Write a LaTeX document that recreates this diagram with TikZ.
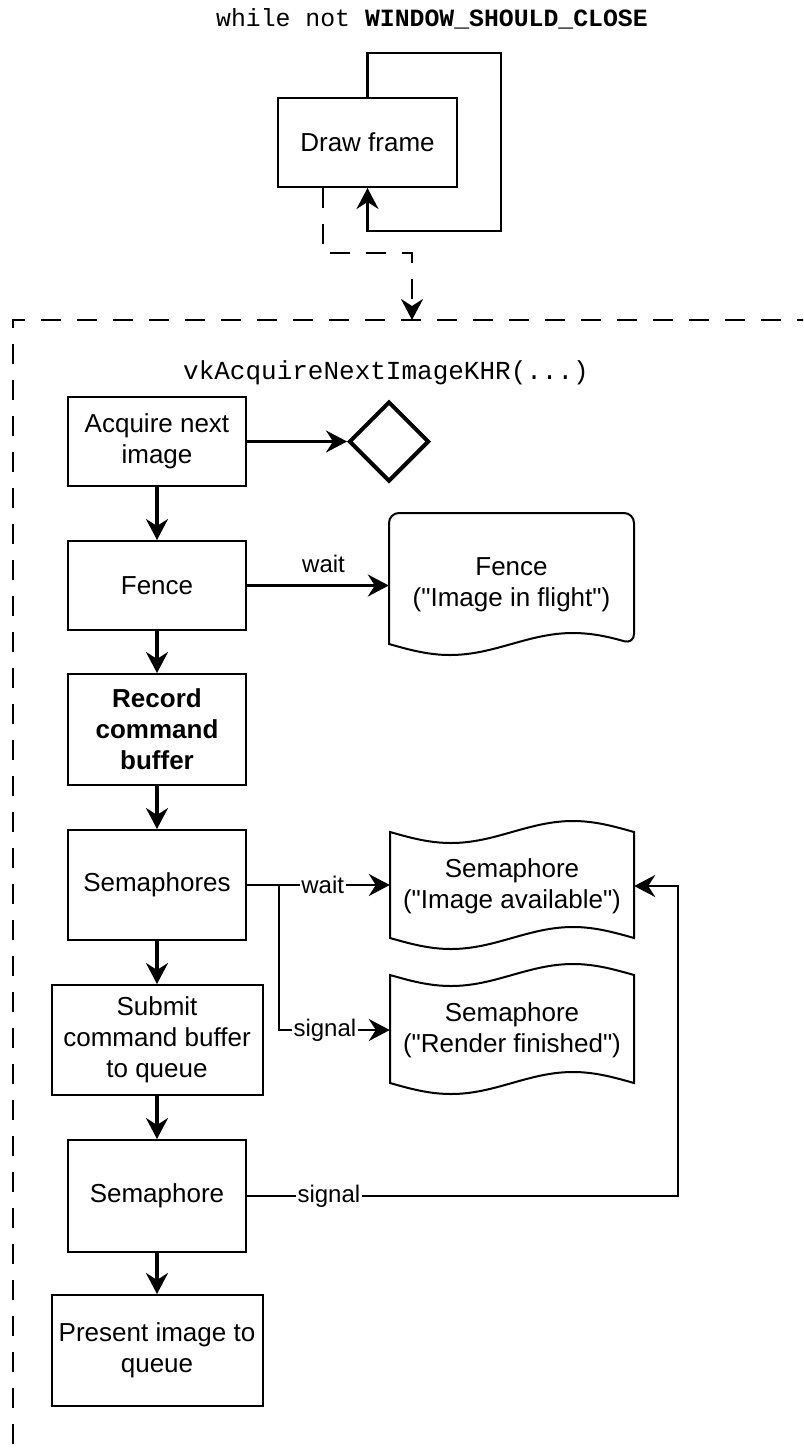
\documentclass[tikz,border=0pt]{standalone}
\usepackage{fontspec}
\setmainfont{Liberation Sans}[Ligatures=TeXOff]
\newfontfamily\monofont{Liberation Mono}
\usetikzlibrary{arrows.meta,shapes.geometric}
\tikzset{
  box/.style={draw, line width=2pt, align=center, inner sep=0pt,
    font=\fontsize{26}{31}\selectfont},
  txt/.style={align=center, inner sep=0pt, font=\fontsize{26}{31}\selectfont},
  shapeline/.style={line width=2pt, line join=miter},
  lbl/.style={fill=white, inner sep=1.5pt, font=\fontsize{24}{28}\selectfont},
  arr/.style={-{Stealth[length=21pt 0 0,width=22pt 0,inset=7pt 0]}},
  vconn/.style={arr, line width=3.2pt},
  hconn/.style={arr, line width=2.2pt},
  loopline/.style={arr, line width=2.4pt},
  dashline/.style={line width=2.4pt, dash pattern=on 20pt off 16pt},
}
\begin{document}
\begin{tikzpicture}[x=1pt,y=-1pt]
\useasboundingbox (0,0) rectangle (803,1448);
\clip (0,0) rectangle (803,1448);

% titles
\node[inner sep=0pt, font=\monofont\fontsize{24.8}{30}\selectfont] (title) at (432,19)
  {while not \textbf{WINDOW\_SHOULD\_CLOSE}};
\node[inner sep=0pt, font=\monofont\fontsize{26}{30}\selectfont] (vk) at (386,373)
  {vkAcquireNextImageKHR(...)};

% top loop
\node[box, minimum width=179pt, minimum height=89pt] (drawf) at (367.5,142.5) {Draw frame};
\coordinate (l1) at (501,53);
\coordinate (l2) at (501,231);
\draw[loopline] (drawf.north) |- (l1) -- (l2) -| (drawf.south);

% container
\coordinate (ctop) at (412,320);
\coordinate (d1) at (412,253);
\draw[dashline, -{Stealth[length=21pt 0 0,width=22pt 0,inset=7pt 0]}] ([xshift=-44.5pt]drawf.south) |- (d1) -- (ctop);
\draw[dashline] (13,1480) -- (13,320) -- (830,320);

% main column
\node[box, minimum width=178pt, minimum height=89pt] (acq) at (157,441.5) {Acquire next\\image};
\node[box, minimum width=178pt, minimum height=89pt] (fence) at (157,585.5) {Fence};
\node[box, minimum width=178pt, minimum height=111pt] (rec) at (157,729.5) {\bfseries Record\\\bfseries command\\\bfseries buffer};
\node[box, minimum width=178pt, minimum height=110pt] (sems) at (157,885) {Semaphores};
\node[box, minimum width=211pt, minimum height=110pt] (sub) at (157,1040) {Submit\\command buffer\\to queue};
\node[box, minimum width=178pt, minimum height=112pt] (sem) at (157,1196) {Semaphore};
\node[box, minimum width=211pt, minimum height=111pt] (pres) at (157,1350.5) {Present image to\\queue};

\draw[vconn] (acq) -- (fence);
\draw[vconn] (fence) -- (rec);
\draw[vconn] (rec) -- (sems);
\draw[vconn] (sems) -- (sub);
\draw[vconn] (sub) -- (sem);
\draw[vconn] (sem) -- (pres);

% diamond
\node[draw, diamond, aspect=1, minimum width=80pt, minimum height=80pt, inner sep=0pt,
  line width=4pt] (dia) at (389,441.5) {};
\draw[hconn] (acq.east) -- (dia.west);

% fence document
\node[txt, minimum width=245pt, minimum height=100pt] (fdoc) at (511.5,585) {Fence\\("Image in flight")};
\draw[shapeline] (389,644) [rounded corners=10pt] -- (389,513) -- (634,513) -- (634,644)
  [sharp corners] sin (573,633) cos (511.5,644) sin (450,655) cos (389,644) -- cycle;
\draw[hconn] (fence.east) -- node[pos=0.54, above=10pt, inner sep=2pt, font=\fontsize{24}{28}\selectfont]{wait} (fence.east -| fdoc.west);

% semaphore tapes
\node[txt, minimum width=244pt, minimum height=90pt] (semA) at (512,886) {Semaphore\\("Image available")};
\draw[shapeline] (390,832) sin (451,843) cos (512,832) sin (573,821) cos (634,832)
  -- (634,938) sin (573,927) cos (512,938) sin (451,949) cos (390,938) -- cycle;
\node[txt, minimum width=244pt, minimum height=90pt] (semR) at (512,1030) {Semaphore\\("Render finished")};
\draw[shapeline] (390,975) sin (451,986) cos (512,975) sin (573,964) cos (634,975)
  -- (634,1083) sin (573,1072) cos (512,1083) sin (451,1094) cos (390,1083) -- cycle;

% semaphore connectors
\coordinate (br) at (279,885);
\draw[hconn] (sems.east) -- node[lbl, pos=0.53]{wait} (sems.east -| semA.west);
\draw[hconn] (br) |- node[lbl, pos=0.707]{signal} (semR.west);
\coordinate (rc) at (678,1196);
\draw[hconn] (sem.east) -- node[lbl, pos=0.19]{signal} (rc) |- (semA.east);
\end{tikzpicture}
\end{document}
